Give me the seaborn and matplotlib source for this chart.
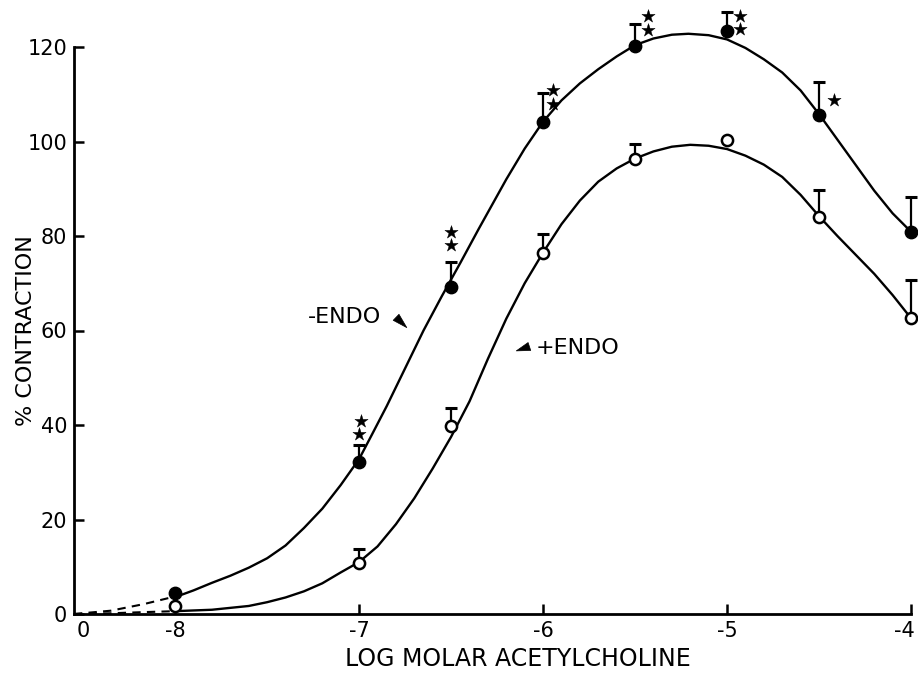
import numpy as np
import pandas as pd
import matplotlib
matplotlib.use("Agg")
import matplotlib.pyplot as plt
import matplotlib.transforms as mtransforms
import seaborn as sns

# log molar concentrations where responses were measured
DOSES = [-8, -7, -6.5, -6, -5.5, -5, -4.5, -4]

# -ENDO (filled circles): mean and upper SEM end
MINUS_MEAN = [4.5, 32.2, 69.2, 104.1, 120.2, 123.4, 105.6, 80.9]
MINUS_TOP = [None, 35.7, 74.5, 110.3, 124.8, 127.5, 112.6, 88.3]

# +ENDO (open circles)
PLUS_MEAN = [1.7, 10.8, 39.7, 76.5, 96.2, 100.4, 84.0, 62.6]
PLUS_TOP = [None, 13.7, 43.5, 80.5, 99.4, None, 89.7, 70.6]

# fitted curves
MINUS_CURVE_X = [-7.97, -7.9, -7.8, -7.7, -7.6, -7.5, -7.4, -7.3, -7.2, -7.1, -7.0,
                 -6.93, -6.85, -6.75, -6.65, -6.55, -6.45, -6.35, -6.2, -6.1, -6.0,
                 -5.9, -5.8, -5.7, -5.6, -5.5, -5.4, -5.3, -5.21, -5.1, -5.0, -4.9,
                 -4.8, -4.7, -4.6, -4.5, -4.4, -4.3, -4.2, -4.1, -4.0]
MINUS_CURVE_Y = [4.0, 5.0, 6.6, 8.1, 9.8, 11.8, 14.5, 18.2, 22.3, 27.3, 32.8,
                 38.0, 44.0, 52.0, 60.0, 67.3, 74.3, 81.5, 92.0, 98.5, 104.2,
                 108.7, 112.3, 115.3, 118.0, 120.4, 121.8, 122.6, 122.8, 122.5, 121.6, 119.8,
                 117.4, 114.6, 110.8, 105.8, 100.4, 95.0, 89.6, 84.8, 80.9]

PLUS_CURVE_X = [-8.0, -7.8, -7.6, -7.5, -7.4, -7.3, -7.2, -7.1, -7.0, -6.9, -6.8,
                -6.7, -6.6, -6.5, -6.4, -6.3, -6.2, -6.1, -6.0, -5.9, -5.8, -5.7,
                -5.6, -5.5, -5.4, -5.3, -5.2, -5.1, -5.0, -4.9, -4.8, -4.7, -4.6,
                -4.5, -4.4, -4.3, -4.2, -4.1, -4.0]
PLUS_CURVE_Y = [0.6, 0.9, 1.7, 2.5, 3.5, 4.8, 6.5, 8.8, 11.0, 14.3, 19.0,
                24.5, 30.8, 37.5, 45.0, 54.0, 62.5, 70.0, 76.5, 82.5, 87.5, 91.5,
                94.3, 96.4, 97.9, 98.9, 99.3, 99.1, 98.4, 97.0, 95.1, 92.5, 88.7,
                84.2, 80.0, 76.0, 72.0, 67.5, 62.6]

# dashed extrapolation to the origin
MINUS_DASH_X = [-8.55, -8.35, -8.17, -7.97]
MINUS_DASH_Y = [0.0, 0.7, 2.1, 4.0]
PLUS_DASH_X = [-8.55, -8.35, -8.17, -8.0]
PLUS_DASH_Y = [0.0, 0.15, 0.4, 0.6]

# significance stars
STAR_X = [-6.99, -7.0, -6.5, -6.5, -5.945, -5.945, -5.43, -5.43, -4.93, -4.93, -4.42]
STAR_Y = [40.9, 38.2, 80.9, 78.0, 110.8, 108.0, 126.6, 123.7, 126.6, 123.8, 108.8]

X_TICKS = [-8, -7, -6, -5, -4]
Y_TICKS = [0, 20, 40, 60, 80, 100, 120]


def draw_errorbars(ax, xs, means, tops):
    for x, m, t in zip(xs, means, tops):
        if t is None:
            continue
        ax.errorbar([x], [m], yerr=[[0], [t - m]], fmt='none', ecolor='black',
                    elinewidth=1.6, capsize=4, capthick=2.2, zorder=2)


def main():
    sns.set_theme(style='ticks')
    plt.rcParams['font.family'] = ['DejaVu Sans']
    plt.rcParams.update({'text.color': 'black', 'axes.labelcolor': 'black',
                         'xtick.color': 'black', 'ytick.color': 'black'})

    fig = plt.figure(figsize=(9.18, 6.75), dpi=100)
    ax = fig.add_axes([74 / 918, 61 / 675, 837 / 918, 567 / 675])

    curves = pd.concat([
        pd.DataFrame({'x': MINUS_CURVE_X, 'y': MINUS_CURVE_Y, 'grp': 'minus'}),
        pd.DataFrame({'x': PLUS_CURVE_X, 'y': PLUS_CURVE_Y, 'grp': 'plus'}),
    ])
    sns.lineplot(data=curves, x='x', y='y', units='grp', estimator=None, sort=False,
                 color='black', lw=1.7, ax=ax, zorder=1)

    dashes = pd.concat([
        pd.DataFrame({'x': MINUS_DASH_X, 'y': MINUS_DASH_Y, 'grp': 'minus'}),
        pd.DataFrame({'x': PLUS_DASH_X, 'y': PLUS_DASH_Y, 'grp': 'plus'}),
    ])
    sns.lineplot(data=dashes, x='x', y='y', units='grp', estimator=None, sort=False,
                 color='black', lw=1.5, ls=(0, (4, 3)), ax=ax, zorder=1)

    draw_errorbars(ax, DOSES, MINUS_MEAN, MINUS_TOP)
    draw_errorbars(ax, DOSES, PLUS_MEAN, PLUS_TOP)

    sns.scatterplot(x=DOSES, y=MINUS_MEAN, color='black', s=80, edgecolor='black',
                    linewidth=1, ax=ax, zorder=3)
    sns.scatterplot(x=DOSES, y=PLUS_MEAN, color='white', s=65, edgecolor='black',
                    linewidth=1.8, ax=ax, zorder=3)
    sns.scatterplot(x=STAR_X, y=STAR_Y, marker='*', color='black', s=100,
                    edgecolor='black', linewidth=0.3, ax=ax, zorder=3)

    # curve labels with small wedge pointers
    ax.text(-7.08, 62.8, '-ENDO', fontsize=16, ha='center', va='center')
    ax.annotate('', xy=(-6.73, 60.2), xytext=(-6.81, 63.2),
                arrowprops=dict(arrowstyle='wedge,tail_width=0.5', color='black', lw=0.5))
    ax.text(-5.815, 56.2, '+ENDO', fontsize=16, ha='center', va='center')
    ax.annotate('', xy=(-6.16, 55.5), xytext=(-6.06, 56.8),
                arrowprops=dict(arrowstyle='wedge,tail_width=0.5', color='black', lw=0.5))

    # points above 120 must not be clipped
    for art in ax.get_children():
        if hasattr(art, 'set_clip_on'):
            art.set_clip_on(False)

    ax.set_xlim(-8.55, -4.0)
    ax.set_ylim(0, 120)
    ax.set_xticks(X_TICKS)
    ax.set_xticklabels([str(t) for t in X_TICKS])
    ax.set_xticks([-8.5], labels=['0'], minor=True)
    ax.set_yticks(Y_TICKS)
    ax.tick_params(which='major', direction='in', length=7, width=1.8, labelsize=15, pad=5)
    ax.tick_params(which='minor', length=0, labelsize=15, pad=5)

    # pull the last x label inside the canvas
    last = ax.get_xticklabels()[-1]
    last.set_transform(last.get_transform()
                       + mtransforms.ScaledTranslation(-5 / 72, 0, fig.dpi_scale_trans))

    for side in ['top', 'right']:
        ax.spines[side].set_visible(False)
    for side in ['left', 'bottom']:
        ax.spines[side].set_linewidth(2.0)
        ax.spines[side].set_color('black')

    ax.set_xlabel('LOG MOLAR ACETYLCHOLINE', fontsize=17)
    ax.set_ylabel('% CONTRACTION', fontsize=16)
    ax.xaxis.set_label_coords(0.53, -0.058)
    ax.yaxis.set_label_coords(-0.045, 0.5)

    fig.savefig('out.png', dpi=100)
    plt.close(fig)


if __name__ == "__main__":
    main()
